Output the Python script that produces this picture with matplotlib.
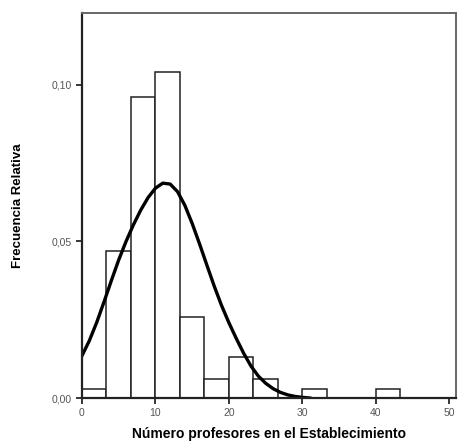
import numpy as np
import matplotlib
matplotlib.use("Agg")
import matplotlib.pyplot as plt

plt.rcParams['font.family'] = ['Liberation Sans', 'DejaVu Sans']

# histograma: 15 clases entre 0 y 50
bin_edges = np.linspace(0, 50, 16)
heights = [0.003, 0.047, 0.096, 0.104, 0.026, 0.006, 0.013, 0.006,
           0.0, 0.003, 0.0, 0.0, 0.003, 0.0, 0.0]

# curva normal
curve_x = list(range(0, 32))
curve_y = [0.0135, 0.0183, 0.0241, 0.0307, 0.0375, 0.0441, 0.0500, 0.0553,
           0.0600, 0.0640, 0.0670, 0.0686, 0.0683, 0.0659, 0.0615, 0.0557,
           0.0492, 0.0424, 0.0357, 0.0295, 0.0240, 0.0190, 0.0143, 0.0102,
           0.0070, 0.0047, 0.0030, 0.0018, 0.0010, 0.0005, 0.0002, 0.0]

x_ticks = [0, 10, 20, 30, 40, 50]
y_ticks = [0.0, 0.05, 0.10]
y_tick_labels = ["0,00", "0,05", "0,10"]

fig = plt.figure(figsize=(4.58, 4.44), dpi=100)
ax = fig.add_axes([0.179, 0.1036, 0.8166, 0.867])

ax.bar(bin_edges[:-1], heights, width=bin_edges[1] - bin_edges[0], align='edge',
       color='white', edgecolor='#222222', linewidth=1.1)
ax.plot(curve_x, curve_y, color='black', linewidth=2.4, solid_joinstyle='round')

ax.set_xlim(0, 50.9)
ax.set_ylim(0, 0.1229)
ax.set_xticks(x_ticks)
ax.set_yticks(y_ticks)
ax.set_yticklabels(y_tick_labels)
ax.tick_params(axis='both', labelsize=7.5, labelcolor='#555555', direction='out',
               length=4, width=1.1)

for side in ['left', 'bottom']:
    ax.spines[side].set_linewidth(1.6)
    ax.spines[side].set_color('#222222')
for side in ['top', 'right']:
    ax.spines[side].set_linewidth(1.4)
    ax.spines[side].set_color('#666666')

ax.set_xlabel("Número profesores en el Establecimiento", fontsize=10,
              fontweight='bold', labelpad=6)
ax.set_ylabel("Frecuencia Relativa", fontsize=9.5, fontweight='bold', labelpad=20)

fig.savefig("out.png", dpi=100)
